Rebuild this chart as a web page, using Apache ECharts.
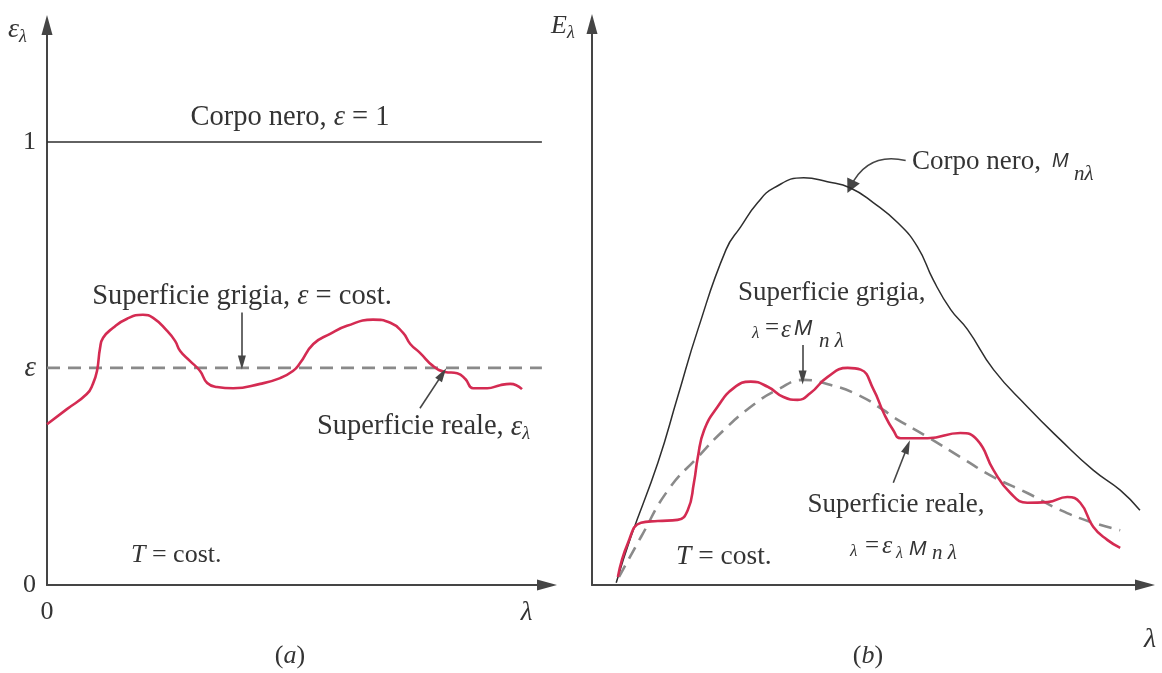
<!DOCTYPE html>
<html>
<head>
<meta charset="utf-8">
<title>Emissività spettrale e potere emissivo</title>
<script src="https://cdn.jsdelivr.net/npm/echarts@6/dist/echarts.min.js"></script>
<style>
  html, body { margin: 0; padding: 0; background: #ffffff; }
  #chart { width: 1162px; height: 673px; }
</style>
</head>
<body>
<div id="chart"></div>
<script>
// ---- (a) spectral emissivity vs wavelength ----
const epsGrey = 0.49;                 // grey surface, constant emissivity
const blackLevel = 1;                 // black body, emissivity = 1
const realLambdaA = [0, 0.39, 0.78, 0.90, 0.98, 1.04, 1.10, 1.29, 1.57, 1.88, 2.08, 2.35, 2.51, 2.61, 2.80, 3.00,
  3.14, 3.33, 3.65, 4.18, 4.57, 4.82, 4.96, 5.22, 5.55, 5.88, 6.39, 6.73, 6.98, 7.12, 7.31, 7.57, 7.80,
  8.04, 8.20, 8.35, 8.63, 8.88, 9.08, 9.31];
const realEpsA = [0.363, 0.397, 0.431, 0.454, 0.483, 0.535, 0.558, 0.580, 0.601, 0.610, 0.603, 0.574, 0.551, 0.528,
  0.506, 0.483, 0.456, 0.447, 0.444, 0.454, 0.467, 0.483, 0.501, 0.544, 0.567, 0.585, 0.599, 0.592, 0.569,
  0.544, 0.524, 0.494, 0.481, 0.478, 0.465, 0.444, 0.444, 0.451, 0.454, 0.442];
const lineEndA = 9.7;

// ---- (b) spectral emissive power vs wavelength ----
const blackLambdaB = [0.43, 0.69, 1.17, 1.52, 1.88, 2.38, 2.64, 2.94, 3.23, 3.76, 4.18, 4.59, 5.00, 5.43, 5.78,
  6.06, 6.37, 6.67, 7.13, 7.73, 8.32, 8.90, 9.38, 9.73];
const blackPowerB = [0.04, 0.84, 2.14, 3.29, 4.47, 5.87, 6.27, 6.69, 6.95, 7.13, 7.06, 6.95, 6.69, 6.34, 5.92,
  5.34, 4.82, 4.47, 3.77, 3.12, 2.54, 2.01, 1.66, 1.31];
const greyLambdaB = [0.48, 0.87, 1.35, 1.88, 2.34, 2.82, 3.30, 3.76, 4.24, 4.72, 5.18, 5.35, 5.96, 6.54, 7.13,
  7.73, 8.32, 8.90, 9.38];
const greyPowerB = [0.14, 0.84, 1.66, 2.24, 2.71, 3.12, 3.42, 3.59, 3.50, 3.33, 3.06, 2.94, 2.59, 2.24, 1.89,
  1.61, 1.31, 1.09, 0.96];
const realLambdaB = [0.46, 0.64, 0.87, 1.17, 1.52, 1.70, 1.81, 1.88, 1.99, 2.23, 2.52, 2.82, 3.12, 3.40, 3.65,
  3.88, 4.18, 4.54, 4.77, 5.00, 5.18, 5.35, 5.48, 5.96, 6.54, 6.84, 7.13, 7.43, 7.73, 8.09, 8.44, 8.67,
  8.90, 9.15, 9.38];
const realPowerB = [0.14, 0.74, 1.09, 1.12, 1.14, 1.31, 1.79, 2.24, 2.71, 3.12, 3.45, 3.56, 3.47, 3.29, 3.24,
  3.36, 3.64, 3.80, 3.77, 3.42, 3.01, 2.71, 2.57, 2.57, 2.66, 2.54, 2.01, 1.61, 1.44, 1.45, 1.54, 1.44,
  1.02, 0.79, 0.65];

const zip = (xs, ys) => xs.map((x, i) => [x, ys[i]]);

const INK = '#343434';
const AXIS = '#454545';
const RED = '#d42b52';
const GREY = '#8a8a8a';
const SERIF = '"Liberation Serif", "DejaVu Serif", serif';
const SANS = '"Liberation Sans", "DejaVu Sans", sans-serif';
const FA = '28.5px ' + SERIF;          // panel (a) annotation font
const FB = '27px ' + SERIF;            // panel (b) annotation font

function axisLineStyle() {
  return { show: true, symbol: ['none', 'triangle'], symbolSize: [11, 20],
           lineStyle: { color: AXIS, width: 2 } };
}

function arrow(from, to) {
  return {
    silent: true, animation: false,
    symbol: ['none', 'triangle'], symbolSize: [8, 14],
    label: { show: false },
    lineStyle: { color: AXIS, width: 1.6, type: 'solid' },
    data: [[{ coord: from }, { coord: to }]]
  };
}

function txt(x, y, text, style) {
  return {
    type: 'text', x: x, y: y, silent: true,
    style: Object.assign({ text: text, fill: INK, font: FB,
                           align: 'left', verticalAlign: 'middle' }, style || {})
  };
}

const curveStyle = { type: 'line', symbol: 'none', silent: true, smooth: 0.5 };

const chart = echarts.init(document.getElementById('chart'), null, { renderer: 'canvas' });

const option = {
  backgroundColor: '#ffffff',
  animation: false,
  grid: [
    { left: 47, top: 25, width: 500, bottom: 88 },
    { left: 592, top: 24, right: 17, bottom: 88 }
  ],
  xAxis: [
    {
      gridIndex: 0, type: 'value', min: 0, max: 9.8,
      axisLine: axisLineStyle(), axisTick: { show: false }, splitLine: { show: false },
      axisLabel: {
        customValues: [0, 9.4], margin: 14, color: INK, fontFamily: SERIF, fontSize: 26,
        formatter: v => v === 0 ? '0' : '{l|λ}',
        rich: { l: { fontFamily: SERIF, fontStyle: 'italic', fontSize: 27, color: INK } }
      }
    },
    {
      gridIndex: 1, type: 'value', min: 0, max: 9.82,
      axisLine: axisLineStyle(), axisTick: { show: false }, splitLine: { show: false },
      axisLabel: { show: false }
    }
  ],
  yAxis: [
    {
      gridIndex: 0, type: 'value', min: 0, max: 1.264,
      axisLine: axisLineStyle(), axisTick: { show: false }, splitLine: { show: false },
      axisLabel: {
        customValues: [0, epsGrey, blackLevel], margin: 11, color: INK, fontFamily: SERIF, fontSize: 26,
        formatter: v => v === 0 ? '0' : (v === 1 ? '1' : '{e|ε}'),
        rich: { e: { fontFamily: SERIF, fontStyle: 'italic', fontSize: 29, color: INK } }
      }
    },
    {
      gridIndex: 1, type: 'value', min: 0, max: 9.82,
      axisLine: axisLineStyle(), axisTick: { show: false }, splitLine: { show: false },
      axisLabel: { show: false }
    }
  ],
  series: [
    // (a) black body, emissivity 1
    {
      type: 'line', xAxisIndex: 0, yAxisIndex: 0, symbol: 'none', silent: true,
      lineStyle: { color: '#2e2e2e', width: 1.6 },
      data: [[0, blackLevel], [lineEndA, blackLevel]]
    },
    // (a) grey surface
    {
      type: 'line', xAxisIndex: 0, yAxisIndex: 0, symbol: 'none', silent: true,
      lineStyle: { color: GREY, width: 2.6, type: [13, 8] },
      data: [[0, epsGrey], [lineEndA, epsGrey]],
      markLine: arrow([3.82, 0.615], [3.82, epsGrey + 0.012])
    },
    // (a) real surface
    Object.assign({}, curveStyle, {
      xAxisIndex: 0, yAxisIndex: 0,
      lineStyle: { color: RED, width: 2.6 },
      data: zip(realLambdaA, realEpsA),
      markLine: arrow([7.31, 0.399], [7.75, 0.476])
    }),
    // (b) black body
    Object.assign({}, curveStyle, {
      xAxisIndex: 1, yAxisIndex: 1,
      lineStyle: { color: '#2e2e2e', width: 1.5 },
      data: zip(blackLambdaB, blackPowerB)
    }),
    // (b) grey surface
    Object.assign({}, curveStyle, {
      xAxisIndex: 1, yAxisIndex: 1,
      lineStyle: { color: GREY, width: 2.6, type: [13, 8] },
      data: zip(greyLambdaB, greyPowerB),
      markLine: arrow([3.74, 4.20], [3.74, 3.63])
    }),
    // (b) real surface
    Object.assign({}, curveStyle, {
      xAxisIndex: 1, yAxisIndex: 1,
      lineStyle: { color: RED, width: 2.6 },
      data: zip(realLambdaB, realPowerB),
      markLine: arrow([5.35, 1.79], [5.60, 2.42])
    }),
    // (b) curved pointer from the black-body label to its curve
    {
      type: 'lines', coordinateSystem: 'cartesian2d', xAxisIndex: 1, yAxisIndex: 1,
      silent: true, symbol: ['none', 'triangle'], symbolSize: [8, 14],
      lineStyle: { color: AXIS, width: 1.6, curveness: -0.4, opacity: 1 },
      data: [{ coords: [[5.57, 7.43], [4.59, 6.97]] }]
    }
  ],
  graphic: [
    // axis names
    txt(8, 30, '{e|ε}{s|λ}', { rich: {
      e: { font: 'italic 28px ' + SERIF, fill: INK },
      s: { font: 'italic 18px ' + SERIF, fill: INK, padding: [14, 0, 0, 0] } } }),
    txt(551, 26, '{e|E}{s|λ}', { rich: {
      e: { font: 'italic 26px ' + SERIF, fill: INK },
      s: { font: 'italic 18px ' + SERIF, fill: INK, padding: [14, 0, 0, 0] } } }),
    txt(1150, 640, 'λ', { font: 'italic 28px ' + SERIF, align: 'center' }),

    // panel (a) annotations
    txt(290, 118, 'Corpo nero, {e|ε} = 1', { font: FA, align: 'center',
      rich: { e: { font: 'italic ' + FA, fill: INK } } }),
    txt(242, 297, 'Superficie grigia, {e|ε} = cost.', { font: FA, align: 'center',
      rich: { e: { font: 'italic ' + FA, fill: INK } } }),
    txt(317, 427, 'Superficie reale, {e|ε}{s|λ}', { font: FA,
      rich: { e: { font: 'italic 29px ' + SERIF, fill: INK },
              s: { font: 'italic 18px ' + SERIF, fill: INK, padding: [14, 0, 0, 0] } } }),
    txt(131, 555, '{t|T} = cost.', { font: '26px ' + SERIF,
      rich: { t: { font: 'italic 26px ' + SERIF, fill: INK } } }),
    txt(290, 656, '({a|a})', { font: '26px ' + SERIF, align: 'center',
      rich: { a: { font: 'italic 26px ' + SERIF, fill: INK } } }),

    // panel (b) annotations
    txt(912, 162, 'Corpo nero,'),
    txt(1052, 161, 'M', { font: 'italic 20px ' + SANS }),
    txt(1074, 174, 'nλ', { font: 'italic 21px ' + SERIF }),
    txt(738, 293, 'Superficie grigia,'),
    txt(752, 334, 'λ', { font: 'italic 17px ' + SERIF }),
    txt(765, 328, '=', { font: '25px ' + SERIF }),
    txt(781, 330, 'ε', { font: 'italic 25px ' + SERIF }),
    txt(794, 329, 'M', { font: 'italic 22px ' + SANS }),
    txt(819, 341, 'n λ', { font: 'italic 21px ' + SERIF }),
    txt(896, 505, 'Superficie reale,', { align: 'center' }),
    txt(850, 552, 'λ', { font: 'italic 17px ' + SERIF }),
    txt(865, 546, '=', { font: '25px ' + SERIF }),
    txt(882, 546, 'ε', { font: 'italic 26px ' + SERIF }),
    txt(896, 554, 'λ', { font: 'italic 16px ' + SERIF }),
    txt(909, 549, 'M', { font: 'italic 21px ' + SANS }),
    txt(932, 553, 'n λ', { font: 'italic 21px ' + SERIF }),
    txt(676, 557, '{t|T} = cost.', { font: '27.5px ' + SERIF,
      rich: { t: { font: 'italic 27.5px ' + SERIF, fill: INK } } }),
    txt(868, 656, '({b|b})', { font: '26px ' + SERIF, align: 'center',
      rich: { b: { font: 'italic 26px ' + SERIF, fill: INK } } })
  ]
};

chart.setOption(option);
</script>
</body>
</html>
